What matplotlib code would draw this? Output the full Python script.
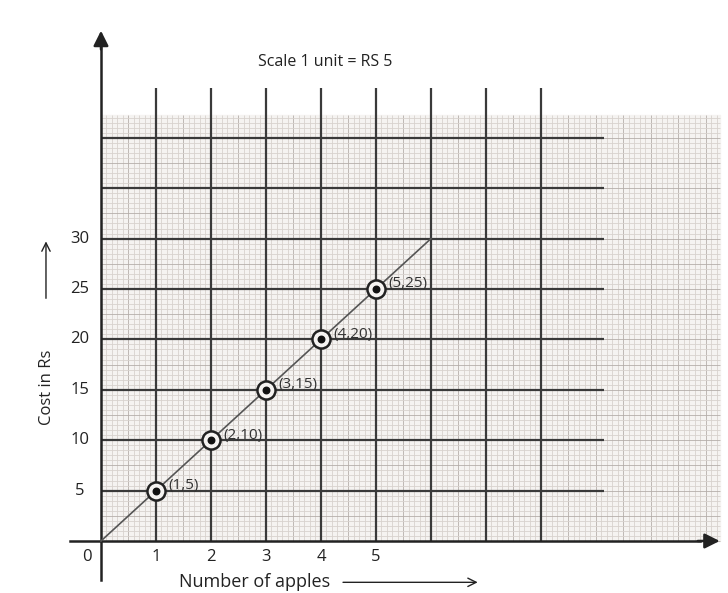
import numpy as np
import matplotlib
matplotlib.use('Agg')
import matplotlib.pyplot as plt

# data
apples = [1, 2, 3, 4, 5]
cost = [5, 10, 15, 20, 25]
point_labels = ['(1,5)', '(2,10)', '(3,15)', '(4,20)', '(5,25)']
rate = 5
x_ticks = [1, 2, 3, 4, 5]
y_ticks = [5, 10, 15, 20, 25, 30]

plt.rcParams['font.family'] = ['Open Sans', 'DejaVu Sans']

fig = plt.figure(figsize=(7.28, 5.93), dpi=100)
ax = fig.add_axes([0, 0, 1, 1])
ax.set_xlim(-1.836, 11.4)
ax.set_ylim(-5.16, 53.67)
ax.axis('off')

# graph paper
paper_right = 11.25
paper_top = 42.3
ax.fill_between([0, paper_right], 0, paper_top, color='#f5f3f1', zorder=0)
for xv in np.arange(0, paper_right, 0.1):
    strong = abs(xv * 2 - round(xv * 2)) < 1e-6
    ax.vlines(xv, 0, paper_top, color='#b5aeaa' if strong else '#d8d2ce',
              lw=0.6, zorder=1)
for yv in np.arange(0, paper_top, 0.5):
    strong = abs(yv / 2.5 - round(yv / 2.5)) < 1e-6
    ax.hlines(yv, 0, paper_right, color='#b5aeaa' if strong else '#d8d2ce',
              lw=0.6, zorder=1)

# major lines
ax.vlines(np.arange(1, 9), 0, 44.9, color='#3a3a3a', lw=1.6, zorder=2)
ax.hlines(np.arange(5, 45, 5), 0, 9.15, color='#3a3a3a', lw=1.6, zorder=2)

# axes with arrows
ax.plot([0, 0], [-3.9, 49.5], color='#222222', lw=1.8, zorder=3)
ax.annotate('', xy=(0, 50.9), xytext=(0, 48.5),
            arrowprops=dict(arrowstyle='-|>,head_width=0.45,head_length=0.9',
                            color='#222222', lw=1.8))
ax.plot([-0.56, 10.9], [0, 0], color='#222222', lw=1.8, zorder=3)
ax.annotate('', xy=(11.3, 0), xytext=(10.8, 0),
            arrowprops=dict(arrowstyle='-|>,head_width=0.45,head_length=0.9',
                            color='#222222', lw=1.8))

# cost line
line_x = np.array([0, 6])
ax.plot(line_x, rate * line_x, color='#555555', lw=1.2, zorder=4)

# points
ax.scatter(apples, cost, s=170, facecolors='#f5f3f1', edgecolors='#222222',
           linewidths=1.8, zorder=5)
ax.scatter(apples, cost, s=22, color='#111111', zorder=6)
for xv, yv, lab in zip(apples, cost, point_labels):
    ax.text(xv + 0.22, yv + 0.5, lab, fontsize=11, color='#333333',
            va='center', ha='left', zorder=6)

# tick labels
for xv in x_ticks:
    ax.text(xv, -1.6, str(xv), fontsize=12, ha='center', va='center', color='#222222')
ax.text(-0.26, -1.6, '0', fontsize=12, ha='center', va='center', color='#222222')
for yv in y_ticks:
    ax.text(-0.38, yv, str(yv), fontsize=12, ha='center', va='center', color='#222222')

# labels
ax.text(4.07, 53.67 - 62 / 10.08, 'Scale 1 unit = RS 5', fontsize=11.5,
        ha='center', va='center', color='#222222')
ax.text(2.8, -4.1, 'Number of apples', fontsize=13, ha='center', va='center',
        color='#222222')
ax.annotate('', xy=(6.9, -4.1), xytext=(4.35, -4.1),
            arrowprops=dict(arrowstyle='->,head_width=0.3,head_length=0.6',
                            color='#222222', lw=1.0))
ax.text(-0.98, 15.2, 'Cost in Rs', fontsize=12, rotation=90, ha='center',
        va='center', color='#222222')
ax.annotate('', xy=(-1.0, 30.0), xytext=(-1.0, 23.8),
            arrowprops=dict(arrowstyle='->,head_width=0.3,head_length=0.6',
                            color='#222222', lw=1.0))

fig.savefig('out.png', dpi=100)
